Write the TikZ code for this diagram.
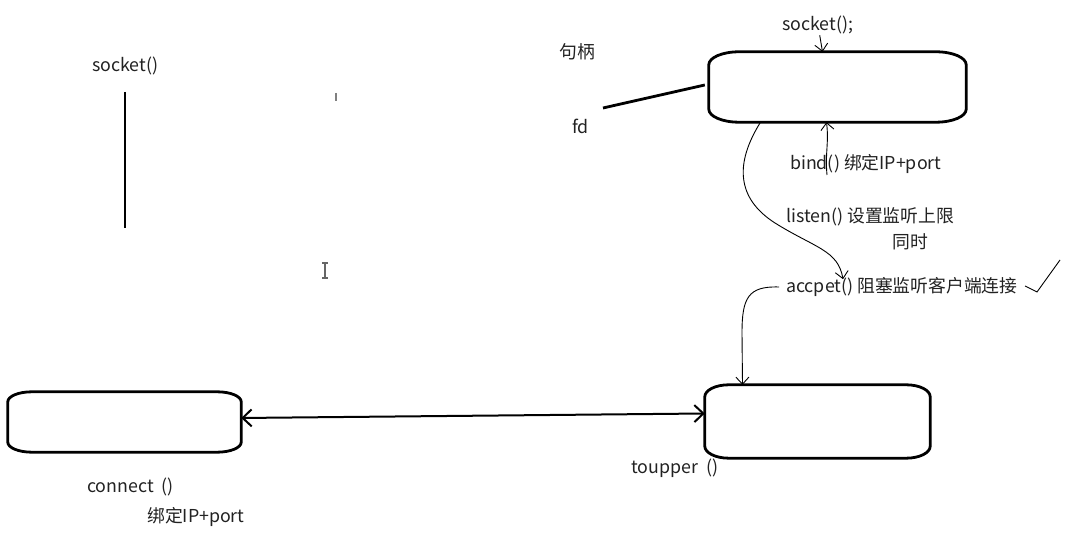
\documentclass[tikz,border=0pt]{standalone}
\usepackage{fontspec}
\setmainfont{Noto Sans CJK SC}
\usetikzlibrary{arrows.meta}
\definecolor{ink}{HTML}{222222}
\newcommand\ovalbox[3]{%
  \draw[boxline] ([xshift=#2]#1.north west) -- ([xshift=-#2]#1.north east)
    arc[start angle=90,end angle=0,x radius=#2,y radius=#3]
    -- ([yshift=#3]#1.south east)
    arc[start angle=0,end angle=-90,x radius=#2,y radius=#3]
    -- ([xshift=#2]#1.south west)
    arc[start angle=270,end angle=180,x radius=#2,y radius=#3]
    -- ([yshift=-#3]#1.north west)
    arc[start angle=180,end angle=90,x radius=#2,y radius=#3] -- cycle;}
\begin{document}
\begin{tikzpicture}[x=1pt,y=1pt,
  boxnode/.style={draw=none,inner sep=0pt},
  boxline/.style={draw=black,line width=2.8pt},
  lbl/.style={text=ink,font=\fontsize{17.8}{20}\selectfont,inner sep=1pt,anchor=west},
  thin/.style={draw=black,line width=0.9pt},
  barb/.style={-{Straight Barb[length=7pt,width=13pt]}},
  dbl/.style={{Straight Barb[length=9pt,width=17pt]}-{Straight Barb[length=9pt,width=17pt]},line width=2pt}]
\fill[white] (0,0) rectangle (1071,548);
\useasboundingbox (0,0) rectangle (1071,548);

% boxes
\node[boxnode,minimum width=257pt,minimum height=70pt] (A) at (837.5,461) {};
\node[boxnode,minimum width=225pt,minimum height=73pt] (B) at (817.5,126.5) {};
\node[boxnode,minimum width=233pt,minimum height=60pt] (C) at (124.5,126) {};
\ovalbox{A}{30pt}{13pt}
\ovalbox{B}{24pt}{12pt}
\ovalbox{C}{24pt}{10pt}

% labels
\node[lbl] (sock1) at (91,482) {socket()};
\node[lbl] (jubing) at (558,496) {句柄};
\node[lbl] (fd) at (571,422) {fd};
\node[lbl] (sock2) at (781,523) {socket();};
\node[lbl] (bind) at (789,384) {bind() 绑定IP+port};
\node[lbl] (listen) at (785,331) {listen() 设置监听上限};
\node[lbl] (tongshi) at (891,306) {同时};
\node[lbl] (acc) at (785,261) {accpet() 阻塞监听客户端连接};
\node[lbl] (toupper) at (630,80) {toupper\ \ ()};
\node[lbl] (connect) at (86,61) {connect\ \ ()};
\node[lbl] (bindc) at (146,31) {绑定IP+port};

% left vertical stroke
\coordinate (v1) at (125,456);
\coordinate (v2) at (125,320);
\draw[line width=2.8pt] (v1) -- (v2);

% fd line
\coordinate (fdp) at (603,440);
\draw[line width=2.8pt] (fdp) -- ([xshift=-4pt,yshift=2pt]A.west);

% socket(); arrow
\draw[thin,barb] ([xshift=2pt]sock2.south) -- ([xshift=-15pt]A.north);

% bind arrow
\coordinate (bindtop) at (827,373);
\draw[thin,barb] (bindtop) .. controls (825,395) and (829,405) .. ([xshift=-11pt]A.south);

% listen curve
\draw[thin,barb] ([xshift=-77pt]A.south) .. controls (735,385) and (736,350) .. (775,325)
  .. controls (815,300) and (838,298) .. ([xshift=58pt,yshift=-3pt]acc.north west);

% accept curve
\draw[thin,barb] ([xshift=-6pt]acc.west) .. controls (748,262) and (742,250) .. (742,215)
  -- ([xshift=-75pt]B.north);

% check mark
\coordinate (ck1) at (1025,262);
\coordinate (ck2) at (1037,256);
\coordinate (ck3) at (1060,288);
\draw[thin] (ck1) -- (ck2) -- (ck3);

% double arrow
\draw[dbl] ([yshift=4pt]C.east) -- ([yshift=8pt]B.west);

% cursor marks
\draw[gray,line width=1.2pt] (336,455) -- (336,447);
\draw[gray!80!black,line width=1.1pt] (325,285) -- (325,270)
  (322,285) -- (328,285) (322,270) -- (328,270);
\end{tikzpicture}
\end{document}
